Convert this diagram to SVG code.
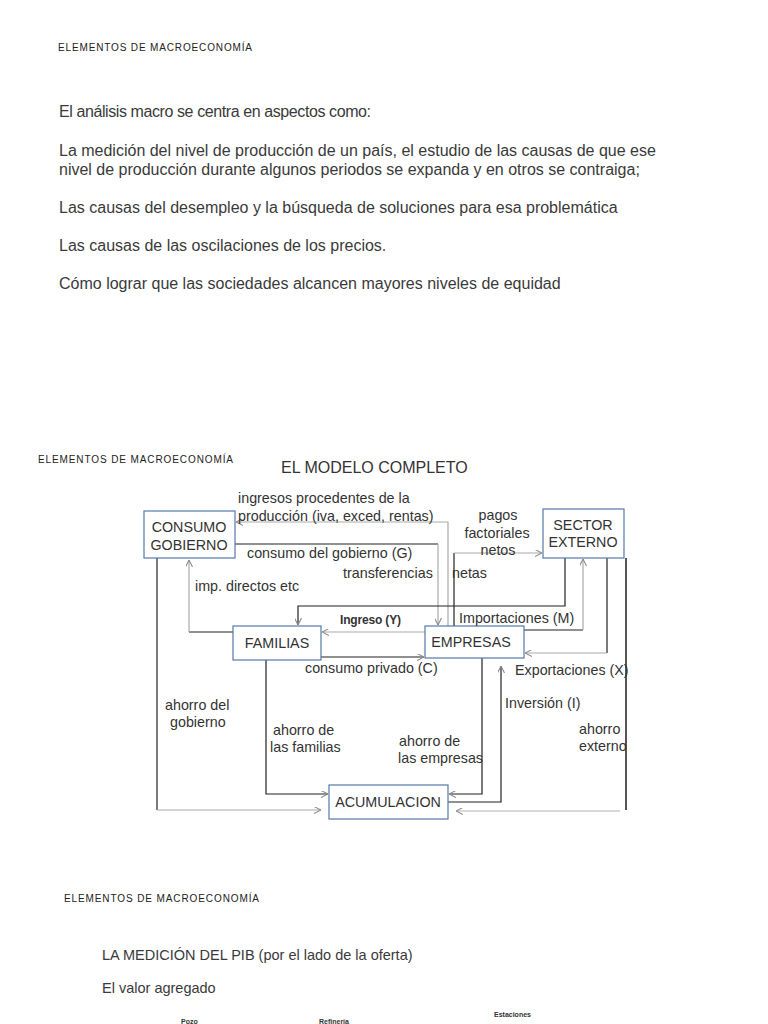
<svg xmlns="http://www.w3.org/2000/svg" width="768" height="1024" viewBox="0 0 768 1024">
<defs>
<style>
text{font-family:"Liberation Sans",Arial,sans-serif;fill:#333;}
.hdr{font-size:10px;fill:#222;}
.body{font-size:16px;fill:#3a3a3a;}
.body2{font-size:14.5px;fill:#3a3a3a;}
.lbl{font-size:14.3px;}
.box{fill:#fff;stroke:#5577aa;stroke-width:1.2;}
.bt{font-size:14.3px;text-anchor:middle;}
.dk{fill:none;stroke:#222;stroke-width:1.2;}
.gy{fill:none;stroke:#aaa;stroke-width:1.2;}
.sm{font-family:"Liberation Sans",Arial,sans-serif;font-size:7px;font-weight:bold;fill:#333;}
</style>
<marker id="ah" viewBox="0 0 10 10" refX="10" refY="5" markerWidth="7" markerHeight="7" orient="auto" markerUnits="userSpaceOnUse">
<path d="M0,0 L10,5 L0,10" fill="none" stroke="#888" stroke-width="1.5"/>
</marker>
</defs>
<rect width="768" height="1024" fill="#fff"/>

<text class="hdr" x="58" y="51" textLength="194">ELEMENTOS DE MACROECONOMÍA</text>
<text class="body" x="59" y="117" textLength="312">El análisis macro se centra en aspectos como:</text>
<text class="body" x="59" y="156">La medición del nivel de producción de un país, el estudio de las causas de que ese</text>
<text class="body" x="59" y="175">nivel de producción durante algunos periodos se expanda y en otros se contraiga;</text>
<text class="body" x="59" y="213">Las causas del desempleo y la búsqueda de soluciones para esa problemática</text>
<text class="body" x="59" y="251">Las causas de las oscilaciones de los precios.</text>
<text class="body" x="59" y="289">Cómo lograr que las sociedades alcancen mayores niveles de equidad</text>

<text class="hdr" x="38" y="463" textLength="195">ELEMENTOS DE MACROECONOMÍA</text>
<text x="281" y="473" style="font-size:16px">EL MODELO COMPLETO</text>

<g id="connectors">
<!-- ingresos procedentes -->
<path class="gy" d="M448,626 V522 H236" marker-end="url(#ah)"/>
<!-- consumo del gobierno -->
<path class="dk" d="M235,544 H438"/>
<path class="gy" d="M438,544 V625" marker-end="url(#ah)"/>
<!-- pagos factoriales netos -->
<path class="dk" d="M454,626 V553"/>
<path class="gy" d="M454,553 H542" marker-end="url(#ah)"/>
<!-- imp. directos -->
<path class="dk" d="M233,632 H189"/>
<path class="gy" d="M189,632 V560" marker-end="url(#ah)"/>
<!-- from sector externo to familias -->
<path class="dk" d="M565,558 V606 H298 V625" marker-end="url(#ah)"/>
<!-- Importaciones -->
<path class="dk" d="M524,630 H583"/>
<path class="gy" d="M583,630 V559" marker-end="url(#ah)"/>
<!-- Exportaciones -->
<path class="dk" d="M607,558 V653"/>
<path class="gy" d="M607,653 H525" marker-end="url(#ah)"/>
<!-- Ingreso (Y) -->
<path class="gy" d="M425,632 H322" marker-end="url(#ah)"/>
<!-- consumo privado -->
<path class="dk" d="M321,657 H424" marker-end="url(#ah)"/>
<!-- ahorro del gobierno -->
<path class="dk" d="M157,558 V810"/>
<path class="gy" d="M157,810 H321" marker-end="url(#ah)"/>
<!-- ahorro de las familias -->
<path class="dk" d="M266,660 V794 H328" marker-end="url(#ah)"/>
<!-- ahorro de las empresas -->
<path class="dk" d="M482,658 V794 H449" marker-end="url(#ah)"/>
<!-- Inversion -->
<path class="dk" d="M448,802 H501 V666" marker-end="url(#ah)"/>
<!-- ahorro externo -->
<path d="M626,558 V810" fill="none" stroke="#555" stroke-width="2"/>
<path d="M620,811 H456" fill="none" stroke="#ccc" stroke-width="1.5" marker-end="url(#ah)"/>
</g>

<g id="n-consumo-gobierno">
<rect class="box" x="144" y="511" width="91" height="47"/>
<text class="bt" x="189" y="532">CONSUMO</text>
<text class="bt" x="189" y="550">GOBIERNO</text>
</g>
<g id="n-sector-externo">
<rect class="box" x="543" y="509" width="81" height="49"/>
<text class="bt" x="583" y="530">SECTOR</text>
<text class="bt" x="583" y="547">EXTERNO</text>
</g>
<g id="n-familias">
<rect class="box" x="233" y="626" width="88" height="34"/>
<text class="bt" x="277" y="648">FAMILIAS</text>
</g>
<g id="n-empresas">
<rect class="box" x="425" y="626" width="99" height="32"/>
<text class="bt" x="471" y="647">EMPRESAS</text>
</g>
<g id="n-acumulacion">
<rect class="box" x="329" y="785" width="119" height="34"/>
<text class="bt" x="388" y="807">ACUMULACION</text>
</g>

<g id="labels">
<text class="lbl" x="238" y="503">ingresos procedentes de la</text>
<text class="lbl" x="238" y="521">producción (iva, exced, rentas)</text>
<text class="lbl" x="498" y="520" text-anchor="middle">pagos</text>
<text class="lbl" x="497" y="538" text-anchor="middle">factoriales</text>
<text class="lbl" x="498" y="555" text-anchor="middle">netos</text>
<text class="lbl" x="247" y="558">consumo del gobierno (G)</text>
<text class="lbl" x="343" y="578">transferencias</text>
<text class="lbl" x="452" y="578">netas</text>
<text class="lbl" x="195" y="591">imp. directos etc</text>
<text x="340" y="624" textLength="61" style="font-size:12px;font-weight:bold">Ingreso (Y)</text>
<text class="lbl" x="459" y="623">Importaciones (M)</text>
<text class="lbl" x="305" y="673">consumo privado (C)</text>
<text class="lbl" x="515" y="675">Exportaciones (X)</text>
<text class="lbl" x="505" y="708">Inversión (I)</text>
<text class="lbl" x="165" y="710">ahorro del</text>
<text class="lbl" x="170" y="727">gobierno</text>
<text class="lbl" x="273" y="735">ahorro de</text>
<text class="lbl" x="270" y="752">las familias</text>
<text class="lbl" x="399" y="746">ahorro de</text>
<text class="lbl" x="398" y="763">las empresas</text>
<text class="lbl" x="579" y="734">ahorro</text>
<text class="lbl" x="579" y="751">externo</text>
</g>

<text class="hdr" x="64" y="902" textLength="195">ELEMENTOS DE MACROECONOMÍA</text>
<text class="body2" x="102" y="960">LA MEDICIÓN DEL PIB (por el lado de la oferta)</text>
<text class="body2" x="102" y="993">El valor agregado</text>
<text class="sm" x="181" y="1024">Pozo</text>
<text class="sm" x="319" y="1024">Refinería</text>
<text class="sm" x="494" y="1017">Estaciones</text>
</svg>
